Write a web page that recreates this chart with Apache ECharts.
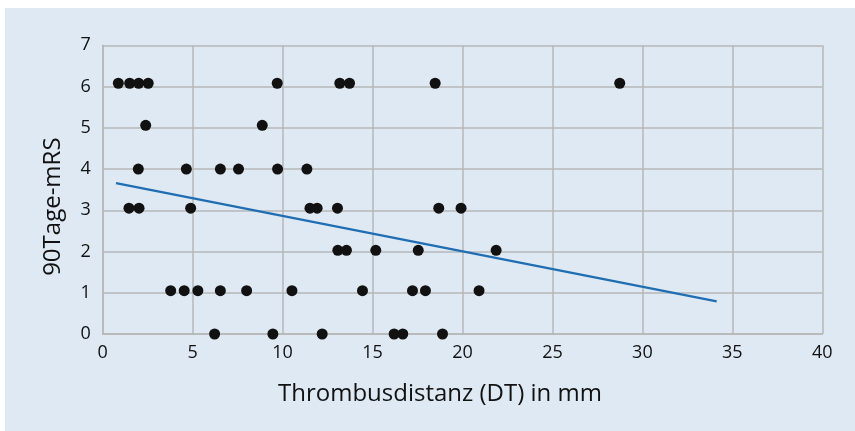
<!DOCTYPE html>
<html>
<head>
<meta charset="utf-8">
<script src="https://cdn.jsdelivr.net/npm/echarts@6/dist/echarts.min.js"></script>
<style>
  html, body { margin: 0; padding: 0; background: #fff; }
  #chart { width: 855px; height: 431px; }
</style>
</head>
<body>
<div id="chart"></div>
<script>
// Thrombusdistanz (mm) vs. 90-Tage-mRS
var distanz = [0.87, 1.5, 2.0, 2.53, 9.7, 13.18, 13.72, 18.48, 28.74,
  2.39, 8.87,
  1.98, 4.65, 6.54, 7.55, 9.72, 11.35,
  1.46, 2.02, 4.89, 11.52, 11.92, 13.05, 18.68, 19.92,
  13.07, 13.55, 15.18, 17.54, 21.87,
  3.78, 4.53, 5.29, 6.54, 8.0, 10.52, 14.44, 17.22, 17.94, 20.92,
  6.22, 9.46, 12.2, 16.2, 16.68, 18.89];
var mrs = [6.08, 6.08, 6.08, 6.08, 6.08, 6.08, 6.08, 6.08, 6.08,
  5.06, 5.06,
  4, 4, 4, 4, 4, 4,
  3.05, 3.05, 3.05, 3.05, 3.05, 3.05, 3.05, 3.05,
  2.03, 2.03, 2.03, 2.03, 2.03,
  1.05, 1.05, 1.05, 1.05, 1.05, 1.05, 1.05, 1.05, 1.05, 1.05,
  0, 0, 0, 0, 0, 0];
// Regressionsgerade: Start- und Endpunkt
var trendX = [0.74, 34.13];
var trendY = [3.66, 0.79];

var points = [];
for (var i = 0; i < distanz.length; i++) {
  points.push([distanz[i], mrs[i]]);
}
var trend = [[trendX[0], trendY[0]], [trendX[1], trendY[1]]];

var gridColor = '#b7b7b7';
var font = '"Open Sans", "Noto Sans", sans-serif';

var chart = echarts.init(document.getElementById('chart'));
chart.setOption({
  backgroundColor: '#fff',
  animation: false,
  graphic: [{
    type: 'rect',
    z: -10,
    shape: { x: 5, y: 8, width: 850, height: 423 },
    style: { fill: '#dfe9f4' }
  }],
  grid: { left: 102.7, right: 32.7, top: 45.3, bottom: 97 },
  xAxis: {
    type: 'value',
    min: 0, max: 40, interval: 5,
    name: 'Thrombusdistanz (DT) in mm',
    nameLocation: 'middle',
    nameGap: 48,
    nameTextStyle: { fontFamily: font, fontSize: 24, color: '#111', padding: [0, 45, 0, 0] },
    axisLine: { show: true, lineStyle: { color: gridColor, width: 1.5 } },
    axisTick: { show: false },
    axisLabel: { fontFamily: font, fontSize: 18, color: '#111', margin: 10 },
    splitLine: { show: true, lineStyle: { color: gridColor, width: 1.5 } }
  },
  yAxis: {
    type: 'value',
    min: 0, max: 7, interval: 1,
    name: '90Tage-mRS',
    nameLocation: 'middle',
    nameGap: 38,
    nameRotate: 90,
    nameTextStyle: { fontFamily: font, fontSize: 24, color: '#111', padding: [0, 34, 0, 0] },
    axisLine: { show: true, lineStyle: { color: gridColor, width: 1.5 } },
    axisTick: { show: false },
    axisLabel: { fontFamily: font, fontSize: 18, color: '#111', margin: 12, padding: [8, 0, 0, 0] },
    splitLine: { show: true, lineStyle: { color: gridColor, width: 1.5 } }
  },
  series: [{
    type: 'scatter',
    data: points,
    symbolSize: 11,
    itemStyle: { color: '#111111', opacity: 1 },
    z: 3
  }, {
    type: 'line',
    data: trend,
    symbol: 'none',
    lineStyle: { color: '#1f6db3', width: 2.2 },
    z: 2
  }]
});
</script>
</body>
</html>
